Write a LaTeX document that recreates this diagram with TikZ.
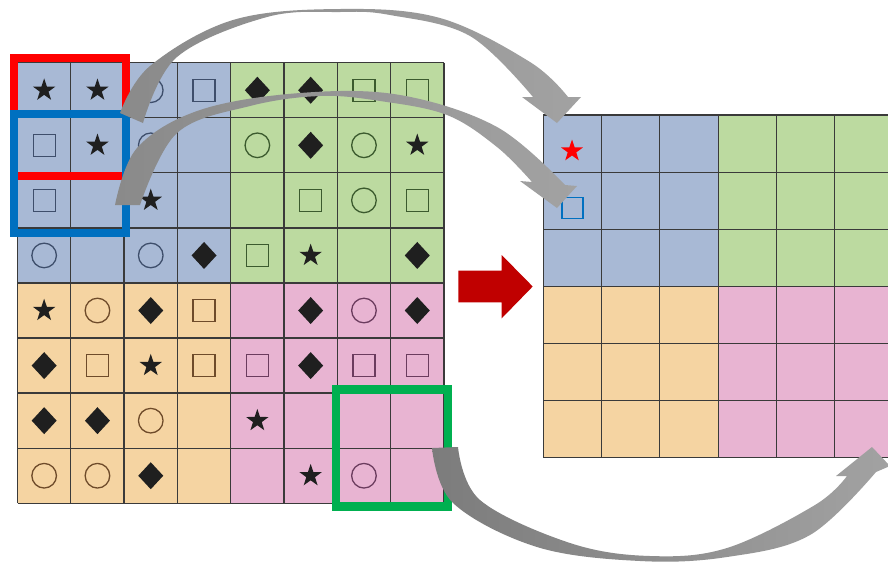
\documentclass[tikz,border=0pt]{standalone}
\usetikzlibrary{shapes.geometric}
\definecolor{cblue}{HTML}{A8B9D5}
\definecolor{cgreen}{HTML}{BCDAA0}
\definecolor{corange}{HTML}{F5D4A2}
\definecolor{cpink}{HTML}{E8B4D2}
\definecolor{oc0}{HTML}{3E4E6B}
\definecolor{oc1}{HTML}{3B5A2E}
\definecolor{oc2}{HTML}{6E4B2A}
\definecolor{oc3}{HTML}{6B3C5E}
\definecolor{starblack}{HTML}{1F1F1F}
\definecolor{gridc}{HTML}{3A3A3A}
\definecolor{selred}{HTML}{FF0000}
\definecolor{selblue}{HTML}{0070C0}
\definecolor{selgreen}{HTML}{00B050}
\definecolor{bigred}{HTML}{C00000}
\definecolor{ga}{HTML}{8A8A8A}
\definecolor{gb}{HTML}{D2D2D2}
\definecolor{gc}{HTML}{A2A2A2}
\definecolor{gd}{HTML}{7C7C7C}
\newcommand\symS[3]{\fill[starblack] (#1,#2) +(-90:11.8) -- +(-54:4.6) -- +(-18:11.8) -- +(18:4.6) -- +(54:11.8) -- +(90:4.6) -- +(126:11.8) -- +(162:4.6) -- +(198:11.8) -- +(234:4.6) -- cycle;}
\newcommand\symD[3]{\fill[starblack] (#1,#2) +(0,-13.5) -- +(12.5,0) -- +(0,13.5) -- +(-12.5,0) -- cycle;}
\newcommand\symQ[3]{\draw[#3, line width=1.3] (#1,#2) +(-11,-11) rectangle +(11,11);}
\newcommand\symC[3]{\draw[#3, line width=1.3] (#1,#2) circle[radius=12.3];}
\tikzset{
  gridline/.style={gridc, line width=1.3},
  rgridline/.style={gridc, line width=1.1},
  selbox/.style={line width=8, line join=miter},
  edge/.style={smooth, tension=0.6},
}
\begin{document}
\begin{tikzpicture}[x=1pt,y=-1pt]
\useasboundingbox (0,0) rectangle (888,566);
\clip (0,0) rectangle (888,566);
\fill[white] (0,0) rectangle (888,566);
% ---------- left grid ----------
\fill[cblue]   (17.5,62.7)  rectangle (230.7,283.0);
\fill[cgreen]  (230.7,62.7) rectangle (443.9,283.0);
\fill[corange] (17.5,283.0) rectangle (230.7,503.3);
\fill[cpink]   (230.7,283.0) rectangle (443.9,503.3);
\foreach \i in {0,...,8} {
  \draw[gridline] (17.5+\i*53.3,62.7) -- (17.5+\i*53.3,503.3);
  \draw[gridline] (17.5,62.7+\i*55.07) -- (443.9,62.7+\i*55.07);
}
\foreach \c/\r/\t in {0/0/S,1/0/S,2/0/C,3/0/Q,4/0/D,5/0/D,6/0/Q,7/0/Q,
  0/1/Q,1/1/S,2/1/C,4/1/C,5/1/D,6/1/C,7/1/S,
  0/2/Q,2/2/S,5/2/Q,6/2/C,7/2/Q,
  0/3/C,2/3/C,3/3/D,4/3/Q,5/3/S,7/3/D,
  0/4/S,1/4/C,2/4/D,3/4/Q,5/4/D,6/4/C,7/4/D,
  0/5/D,1/5/Q,2/5/S,3/5/Q,4/5/Q,5/5/D,6/5/Q,7/5/Q,
  0/6/D,1/6/D,2/6/C,4/6/S,
  0/7/C,1/7/C,2/7/D,5/7/S,6/7/C} {
  \pgfmathsetmacro\sx{17.5+(\c+0.5)*53.3}
  \pgfmathsetmacro\sy{62.7+(\r+0.5)*55.07}
  \pgfmathtruncatemacro\reg{(\c>3)+2*(\r>3)}
  \csname sym\t\endcsname{\sx}{\sy}{oc\reg}
}
% selection boxes
\draw[selbox, selred]   (14,57.5) rectangle (126,176);
\draw[selbox, selblue]  (14,114) rectangle (126,232.5);
\draw[selbox, selgreen, line width=8.5] (336,389.5) rectangle (448,506.5);
% ---------- right grid ----------
\fill[cblue]   (543.3,115)   rectangle (718.2,286.3);
\fill[cgreen]  (718.2,115)   rectangle (893.1,286.3);
\fill[corange] (543.3,286.3) rectangle (718.2,457.6);
\fill[cpink]   (718.2,286.3) rectangle (893.1,457.6);
\foreach \i in {0,...,6} {
  \draw[rgridline] (543.3+\i*58.3,115) -- (543.3+\i*58.3,457.6);
  \draw[rgridline] (543.3,115+\i*57.1) -- (893.1,115+\i*57.1);
}
\fill[selred] (572,151) +(-90:11.5) -- +(-54:4.5) -- +(-18:11.5) -- +(18:4.5) -- +(54:11.5) -- +(90:4.5) -- +(126:11.5) -- +(162:4.5) -- +(198:11.5) -- +(234:4.5) -- cycle;
\draw[selblue, line width=1.2] (562,197.5) rectangle (583,218.5);
% ---------- big red arrow ----------
\fill[bigred] (458.3,270.7) -- (501.7,270.7) -- (501.7,255) -- (532.7,286.5) -- (501.7,318.3) -- (501.7,302.3) -- (458.3,302.3) -- cycle;
% ---------- gray curved arrows ----------
\shade[left color=ga, middle color=gb, right color=gc]
  plot[edge] coordinates {(120,113) (150,66) (233,20) (340,9) (440,18) (530,62) (568,97)}
  -- (581,97) -- (557,123) -- (522,97)
  -- plot[edge] coordinates {(533,97) (470,36) (390,15) (340,12) (267,17) (177,57) (143,123)}
  -- cycle;
\shade[left color=ga, middle color=gb, right color=gc]
  plot[edge] coordinates {(115,205) (137,148) (200,110) (300,93) (400,95) (497,127) (565,185)}
  -- (577,186) -- (557,208) -- (520,181)
  -- plot[edge] coordinates {(532,182) (497,147) (447,115) (380,101) (320,96) (250,106) (177,133) (140,205)}
  -- cycle;
\shade[left color=gd, middle color=gb, right color=gc]
  plot[edge] coordinates {(432,448) (453,503) (537,547) (640,561) (727,557) (810,535) (876,472)}
  -- (890,466) -- (872,447) -- (836,476)
  -- plot[edge] coordinates {(847,476) (815,505) (727,548) (650,556) (570,543) (480,500) (458,447)}
  -- cycle;
\end{tikzpicture}
\end{document}
